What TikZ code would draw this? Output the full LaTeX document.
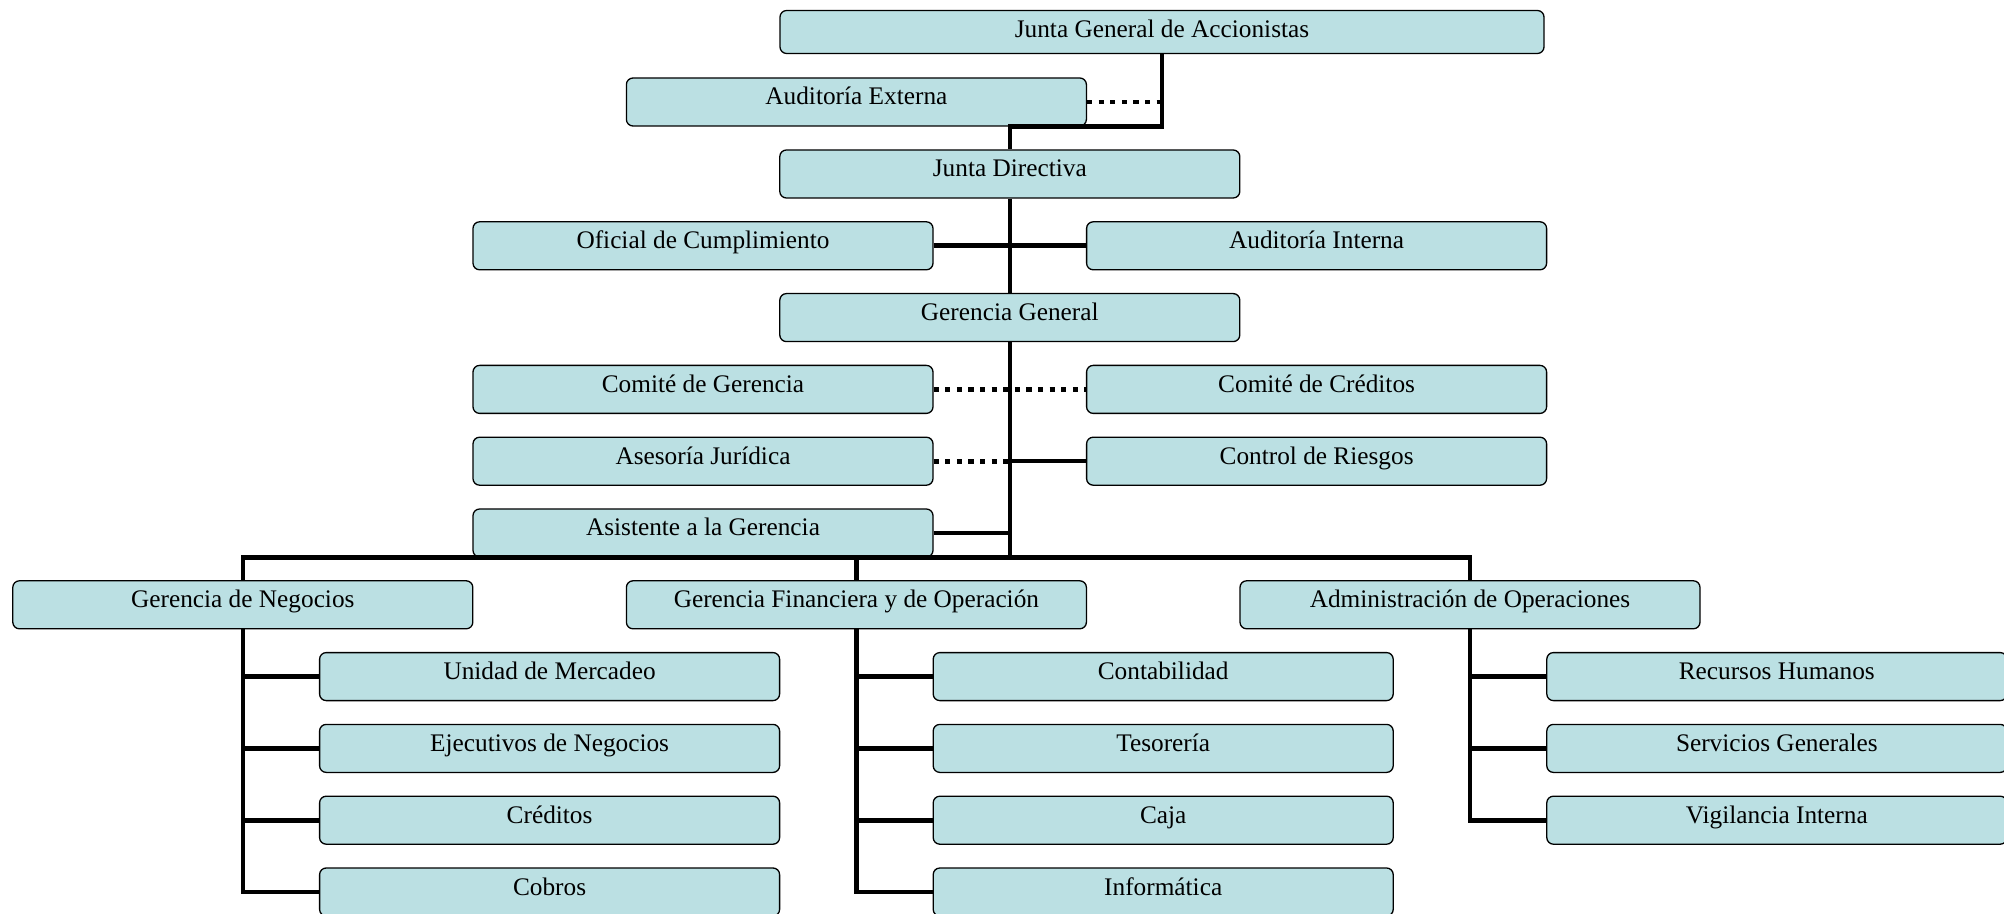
\documentclass[tikz,border=0pt]{standalone}
\usepackage{fontspec}
\setmainfont{Liberation Serif}
\definecolor{boxfill}{RGB}{187,224,227}
\begin{document}
\begin{tikzpicture}[x=0.5pt,y=-0.5pt,
  orgbox/.style={draw=black, line width=0.65pt, fill=boxfill, rounded corners=3.3pt,
    minimum width=230pt, minimum height=24pt, inner sep=0pt,
    text height=8pt, text depth=5pt,
    font=\fontsize{12.65}{15}\selectfont},
  conn/.style={draw=black, line width=2.3pt},
  dotc/.style={draw=black, line width=2.4pt, dash pattern=on 2.6pt off 3.2pt}]
\useasboundingbox (0,0) rectangle (2004,914);
% boxes
\node[orgbox, minimum width=382pt, minimum height=21.5pt, text depth=2pt] (jg) at (1162,32) {Junta General de Accionistas};
\node[orgbox] (ae) at (856.4,102) {Auditoría Externa};
\node[orgbox] (jd) at (1009.8,174) {Junta Directiva};
\node[orgbox] (of) at (703.0,245.8) {Oficial de Cumplimiento};
\node[orgbox] (ai) at (1316.6,245.8) {Auditoría Interna};
\node[orgbox] (gg) at (1009.8,317.6) {Gerencia General};
\node[orgbox] (cg) at (703.0,389.4) {Comité de Gerencia};
\node[orgbox] (cc) at (1316.6,389.4) {Comité de Créditos};
\node[orgbox] (aj) at (703.0,461.2) {Asesoría Jurídica};
\node[orgbox] (cr) at (1316.6,461.2) {Control de Riesgos};
\node[orgbox] (asist) at (703.0,533) {Asistente a la Gerencia};
\node[orgbox] (gn) at (242.8,604.8) {Gerencia de Negocios};
\node[orgbox] (gf) at (856.4,604.8) {Gerencia Financiera y de Operación};
\node[orgbox] (adm) at (1470.0,604.8) {Administración de Operaciones};
\node[orgbox] (um) at (549.6,676.6) {Unidad de Mercadeo};
\node[orgbox] (en) at (549.6,748.4) {Ejecutivos de Negocios};
\node[orgbox] (cre) at (549.6,820.2) {Créditos};
\node[orgbox] (cob) at (549.6,892) {Cobros};
\node[orgbox] (con) at (1163.2,676.6) {Contabilidad};
\node[orgbox] (tes) at (1163.2,748.4) {Tesorería};
\node[orgbox] (caj) at (1163.2,820.2) {Caja};
\node[orgbox] (inf) at (1163.2,892) {Informática};
\node[orgbox] (rh) at (1776.8,676.6) {Recursos Humanos};
\node[orgbox] (sg) at (1776.8,748.4) {Servicios Generales};
\node[orgbox] (vi) at (1776.8,820.2) {Vigilancia Interna};
% connectors
\draw[conn] (jg.south) -- (jg.south |- ae.south) -- (jd.north |- ae.south) -- (jd.north);
\draw[dotc] (ae.east) -- (ae.east -| jg.south);
\draw[conn] (jd.south) -- (gg.north);
\draw[conn] (of.east) -- (ai.west);
\draw[conn] (gg.south) -- (gg.south |- asist.south);
\draw[dotc] (cg.east) -- (cc.west);
\draw[dotc] (aj.east) -- (aj.east -| gg.south);
\draw[conn] (cr.west) -- (cr.west -| gg.south);
\draw[conn] (asist.east) -- (asist.east -| gg.south);
\draw[conn] (gn.north) -- (gn.north |- asist.south) -- (adm.north |- asist.south) -- (adm.north);
\draw[conn] (gf.north) -- (gf.north |- asist.south);
% Gerencia de Negocios
\draw[conn] (gn.south) -- (gn.south |- cob.west) -- (cob.west);
\draw[conn] (um.west) -- (um.west -| gn.south);
\draw[conn] (en.west) -- (en.west -| gn.south);
\draw[conn] (cre.west) -- (cre.west -| gn.south);
% Gerencia Financiera
\draw[conn] (gf.south) -- (gf.south |- inf.west) -- (inf.west);
\draw[conn] (con.west) -- (con.west -| gf.south);
\draw[conn] (tes.west) -- (tes.west -| gf.south);
\draw[conn] (caj.west) -- (caj.west -| gf.south);
% Administracion
\draw[conn] (adm.south) -- (adm.south |- vi.west) -- (vi.west);
\draw[conn] (rh.west) -- (rh.west -| adm.south);
\draw[conn] (sg.west) -- (sg.west -| adm.south);
\end{tikzpicture}
\end{document}
